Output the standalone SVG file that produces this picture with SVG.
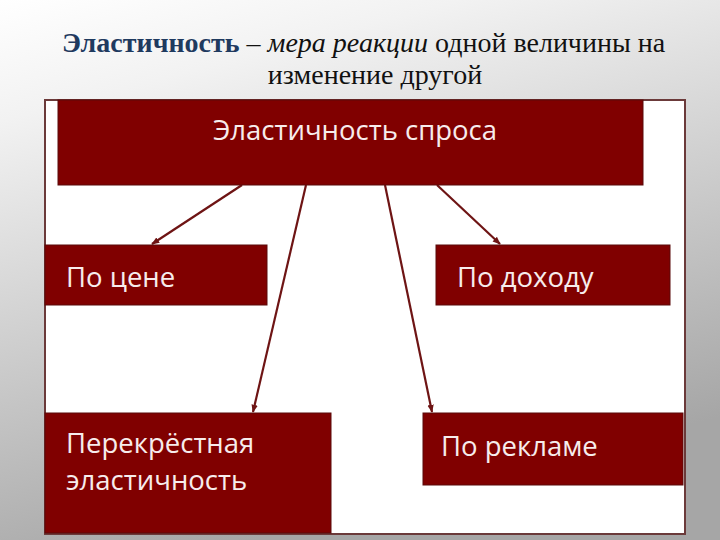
<svg xmlns="http://www.w3.org/2000/svg" width="720" height="540" viewBox="0 0 720 540">
<defs>
<linearGradient id="bg" x1="0" y1="0" x2="0.35" y2="1">
<stop offset="0" stop-color="#ffffff"/>
<stop offset="0.2" stop-color="#f2f2f2"/>
<stop offset="1" stop-color="#a6a6a6"/>
</linearGradient>
<marker id="ah" viewBox="0 0 10 10" refX="9" refY="5" markerWidth="8" markerHeight="8" orient="auto" markerUnits="userSpaceOnUse">
<path d="M0,1 L10,5 L0,9 Z" fill="#6e1414"/>
</marker>
<style>
.box{fill:#800000;stroke:#5a0a0a;stroke-width:1}
.lbl{font-family:"Open Sans","Noto Sans",sans-serif;font-size:27.5px;fill:#f7ecec}
.conn{stroke:#6e1414;stroke-width:2.2;fill:none;marker-end:url(#ah)}
.title{font-family:"Liberation Serif","Times New Roman",serif;font-size:28px;fill:#111}
</style>
</defs>
<rect x="0" y="0" width="720" height="540" fill="url(#bg)"/>
<g id="title">
<text class="title" x="62" y="52"><tspan font-weight="bold" fill="#1f3a5f">Эластичность</tspan> – <tspan font-style="italic">мера реакции</tspan> одной величины на</text>
<text class="title" x="375" y="84" text-anchor="middle">изменение другой</text>
</g>
<rect id="frame" x="45" y="100" width="640" height="434" fill="#ffffff" stroke="#6b3a3a" stroke-width="2"/>
<g id="connectors">
<line class="conn" x1="242" y1="185" x2="152" y2="244"/>
<line class="conn" x1="306" y1="185" x2="253" y2="412"/>
<line class="conn" x1="385" y1="185" x2="432" y2="412"/>
<line class="conn" x1="437" y1="185" x2="500" y2="244"/>
</g>
<g id="n-top">
<rect class="box" x="58" y="100" width="585" height="85"/>
<text class="lbl" x="355" y="140" text-anchor="middle">Эластичность спроса</text>
</g>
<g id="n-price">
<rect class="box" x="45" y="245" width="222" height="60"/>
<text class="lbl" x="66" y="287">По цене</text>
</g>
<g id="n-income">
<rect class="box" x="436" y="245" width="234" height="60"/>
<text class="lbl" x="457" y="287">По доходу</text>
</g>
<g id="n-cross">
<rect class="box" x="45" y="413" width="286" height="120"/>
<text class="lbl" x="66" y="453">Перекрёстная</text>
<text class="lbl" x="66" y="490">эластичность</text>
</g>
<g id="n-ads">
<rect class="box" x="423" y="413" width="260" height="72"/>
<text class="lbl" x="441" y="456">По рекламе</text>
</g>
</svg>
